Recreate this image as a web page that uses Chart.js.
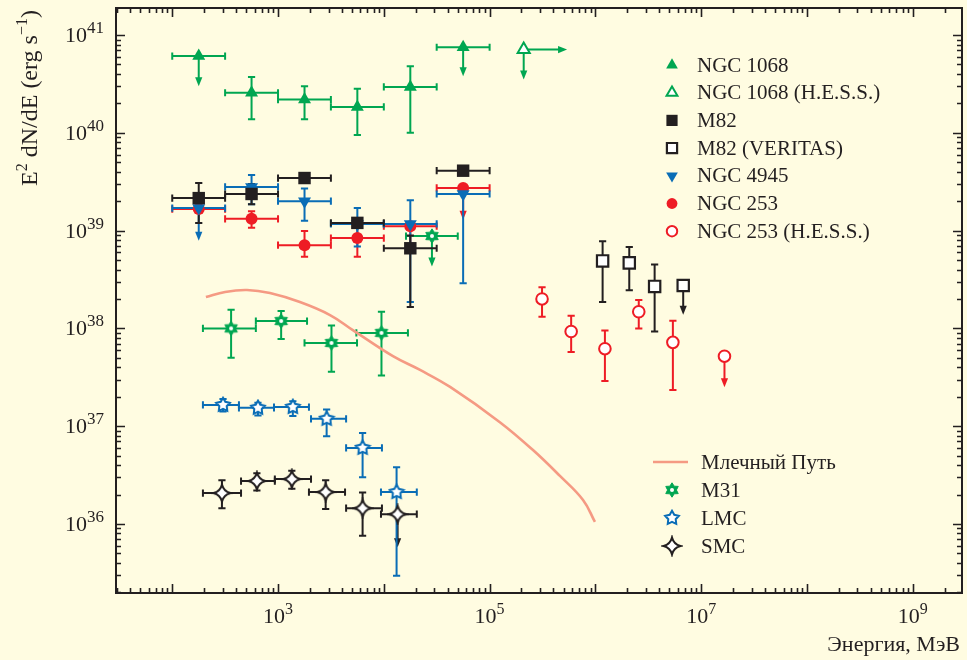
<!DOCTYPE html>
<html lang="ru">
<head>
<meta charset="UTF-8">
<title>Гамма-светимость галактик</title>
<script src="https://cdn.jsdelivr.net/npm/chart.js@4/dist/chart.umd.min.js"></script>
<style>
  body { margin: 0; background: #FFFCE1; overflow: hidden; }
  #wrap { width: 967px; height: 660px; }
  canvas { display: block; }
</style>
</head>
<body>
<div id="wrap"><canvas id="chart" width="967" height="660"></canvas></div>
<script>
// Fermi-LAT energy bins, MeV (centre and edges)
const fermiE  = [1.78e2, 5.62e2, 1.78e3, 5.62e3, 1.78e4, 5.62e4];
const fermiLo = [1.0e2, 3.16e2, 1.0e3, 3.16e3, 1.0e4, 3.16e4];
const fermiHi = [3.16e2, 1.0e3, 3.16e3, 1.0e4, 3.16e4, 1.0e5];

// NGC 1068, erg/s
const ngc1068L    = [6.1e40, 2.57e40, 2.19e40, 1.84e40, 2.95e40, 7.5e40];
const ngc1068LMin = [null, 1.38e40, 1.38e40, 9.5e39, 1.0e40, null];
const ngc1068LMax = [null, 3.72e40, 3.0e40, 2.82e40, 4.8e40, null];
const ngc1068UL   = [3.0e40, null, null, null, null, 3.8e40];

// NGC 1068, H.E.S.S.
const ngc1068HessE     = [2.1e5];
const ngc1068HessL     = [7.1e40];
const ngc1068HessUL    = [3.5e40];
const ngc1068HessEMore = [5.4e5];

// M82
const m82L    = [2.15e39, 2.37e39, 3.45e39, 1.2e39, 6.6e38, 4.1e39];
const m82LMin = [1.2e39, 1.86e39, null, null, 1.66e38, null];
const m82LMax = [3.07e39, 3.0e39, null, null, 8.9e38, null];

// M82, VERITAS
const m82VerE    = [1.17e6, 2.09e6, 3.63e6, 6.76e6];
const m82VerL    = [4.9e38, 4.68e38, 2.69e38, 2.75e38];
const m82VerLMin = [1.86e38, 2.45e38, 9.3e37, null];
const m82VerLMax = [7.8e38, 6.8e38, 4.5e38, null];
const m82VerUL   = [null, null, null, 1.38e38];

// NGC 4945
const ngc4945L    = [1.7e39, 2.8e39, 2.0e39, 1.17e39, 1.17e39, 2.37e39];
const ngc4945LMin = [null, 1.86e39, 1.26e39, 6.9e38, 1.86e38, 2.9e38];
const ngc4945LMax = [null, 3.7e39, 2.7e39, 1.7e39, 2.04e39, null];
const ngc4945UL   = [7.9e38, null, null, null, null, null];

// NGC 253
const ngc253L    = [1.66e39, 1.32e39, 7.1e38, 8.4e38, 1.11e39, 2.73e39];
const ngc253LMin = [null, 1.07e39, 5.4e38, 5.4e38, 6.0e38, null];
const ngc253LMax = [null, 1.58e39, 9.9e38, 1.12e39, null, null];
const ngc253UL   = [null, null, null, null, null, 1.29e39];

// NGC 253, H.E.S.S.
const ngc253HessE    = [3.13e5, 5.9e5, 1.23e6, 2.57e6, 5.4e6, 1.66e7];
const ngc253HessL    = [2.0e38, 9.3e37, 6.2e37, 1.48e38, 7.2e37, 5.2e37];
const ngc253HessLMin = [1.32e38, 5.75e37, 2.9e37, 1.0e38, 2.34e37, null];
const ngc253HessLMax = [2.63e38, 1.35e38, 9.5e37, 1.95e38, 1.2e38, null];
const ngc253HessUL   = [null, null, null, null, null, 2.5e37];

// M31
const m31E    = [3.6e2, 1.07e3, 3.2e3, 9.5e3, 2.85e4];
const m31ELo  = [1.95e2, 6.17e2, 1.78e3, 5.5e3, 1.62e4];
const m31EHi  = [6.17e2, 1.88e3, 5.58e3, 1.69e4, 5.0e4];
const m31L    = [1.0e38, 1.19e38, 7.1e37, 9.0e37, 8.8e38];
const m31LMin = [5.0e37, 7.8e37, 3.6e37, 3.3e37, null];
const m31LMax = [1.55e38, 1.51e38, 1.07e38, 1.48e38, null];
const m31UL   = [null, null, null, null, 4.3e38];

// LMC
const lmcE    = [3.02e2, 6.46e2, 1.38e3, 2.88e3, 6.3e3, 1.32e4];
const lmcELo  = [1.95e2, 4.27e2, 9.16e2, 2.05e3, 4.4e3, 9.4e3];
const lmcEHi  = [4.27e2, 9.16e2, 1.96e3, 4.4e3, 9.6e3, 2.05e4];
const lmcL    = [1.65e37, 1.54e37, 1.57e37, 1.19e37, 6.0e36, 2.12e36];
const lmcLMin = [1.41e37, 1.29e37, 1.27e37, 7.9e36, 3.0e36, 2.95e35];
const lmcLMax = [1.9e37, 1.74e37, 1.8e37, 1.48e37, 8.5e36, 3.8e36];

// SMC
const smcE    = [2.95e2, 6.31e2, 1.35e3, 2.82e3, 6.3e3, 1.35e4];
const smcELo  = [1.95e2, 4.47e2, 9.33e2, 1.96e3, 4.4e3, 9.4e3];
const smcEHi  = [4.47e2, 9.33e2, 2.05e3, 4.3e3, 9.6e3, 2.05e4];
const smcL    = [2.07e36, 2.75e36, 2.88e36, 2.12e36, 1.45e36, 1.26e36];
const smcLMin = [1.45e36, 2.2e36, 2.3e36, 1.42e36, 7.6e35, null];
const smcLMax = [2.8e36, 3.3e36, 3.5e36, 2.8e36, 2.1e36, null];
const smcUL   = [null, null, null, null, null, 5.8e35];

// Milky Way model spectrum
const mwE = [2.08e2, 3.16e2, 5.09e2, 8.39e2, 1.61e3, 3.1e3, 5.1e3, 1.22e4, 2.2e4, 4.23e4, 1.25e5, 2.57e5, 4.62e5, 7.64e5, 9.9e5];
const mwL = [2.09e38, 2.36e38, 2.47e38, 2.3e38, 1.86e38, 1.37e38, 9.6e37, 5.2e37, 3.76e37, 2.52e37, 1.1e37, 5.7e36, 3.1e36, 1.76e36, 1.05e36];

// axis decades
const yDecades = [36, 37, 38, 39, 40, 41];
const xLabelDecades = [3, 5, 7, 9];

const legendUpper = ['NGC 1068', 'NGC 1068 (H.E.S.S.)', 'M82', 'M82 (VERITAS)', 'NGC 4945', 'NGC 253', 'NGC 253 (H.E.S.S.)'];
const legendLower = ['Млечный Путь', 'M31', 'LMC', 'SMC'];

const GREEN = '#00A651', BLACK = '#231F20', BLUE = '#0A6DB6', RED = '#EE1C25', SALMON = '#F59A83';
const PAPER = '#FFFCE1', WHITE = '#FFFFFF';
const FONT = "'Liberation Serif', 'Times New Roman', serif";

// ---- custom star markers ----
function makeMarker(size, draw) {
  const c = document.createElement('canvas');
  c.width = c.height = size;
  const g = c.getContext('2d');
  g.translate(size / 2, size / 2);
  draw(g);
  return c;
}
function starPath(g, n, rOut, rIn) {
  g.beginPath();
  for (let k = 0; k < 2 * n; k++) {
    const r = k % 2 ? rIn : rOut;
    const a = -Math.PI / 2 + k * Math.PI / n;
    g.lineTo(r * Math.cos(a), r * Math.sin(a));
  }
  g.closePath();
}
const m31Marker = makeMarker(18, g => {
  starPath(g, 6, 7.2, 4.4);
  g.fillStyle = GREEN; g.fill();
  g.lineWidth = 1; g.strokeStyle = GREEN; g.stroke();
  g.beginPath(); g.arc(0, 0, 2, 0, 2 * Math.PI);
  g.fillStyle = WHITE; g.fill();
});
const lmcMarker = makeMarker(18, g => {
  starPath(g, 5, 7.2, 3.9);
  g.fillStyle = WHITE; g.fill();
  g.lineWidth = 2; g.strokeStyle = BLUE; g.stroke();
});
const smcMarker = makeMarker(22, g => {
  const r = 8.5, c = r * 0.2;
  g.beginPath();
  g.moveTo(0, -r);
  g.quadraticCurveTo(c, -c, r, 0);
  g.quadraticCurveTo(c, c, 0, r);
  g.quadraticCurveTo(-c, c, -r, 0);
  g.quadraticCurveTo(-c, -c, 0, -r);
  g.closePath();
  g.fillStyle = WHITE; g.fill();
  g.lineWidth = 2; g.strokeStyle = BLACK; g.stroke();
});

const pts = (xs, ys) => xs.map((x, i) => ({ x, y: ys[i] }));

const datasets = [
  { label: 'NGC 1068', data: pts(fermiE, ngc1068L), pointStyle: 'triangle', pointRadius: 7.5,
    backgroundColor: GREEN, borderColor: GREEN, borderWidth: 0,
    err: { xLo: fermiLo, xHi: fermiHi, yLo: ngc1068LMin, yHi: ngc1068LMax, down: ngc1068UL } },
  { label: 'NGC 1068 (H.E.S.S.)', data: pts(ngc1068HessE, ngc1068HessL), pointStyle: 'triangle', pointRadius: 7,
    backgroundColor: WHITE, borderColor: GREEN, borderWidth: 2,
    err: { down: ngc1068HessUL, right: ngc1068HessEMore } },
  { label: 'M82', data: pts(fermiE, m82L), pointStyle: 'rect', pointRadius: 8.8,
    backgroundColor: BLACK, borderColor: BLACK, borderWidth: 0,
    err: { xLo: fermiLo, xHi: fermiHi, yLo: m82LMin, yHi: m82LMax } },
  { label: 'M82 (VERITAS)', data: pts(m82VerE, m82VerL), pointStyle: 'rect', pointRadius: 8,
    backgroundColor: WHITE, borderColor: BLACK, borderWidth: 2.2,
    err: { yLo: m82VerLMin, yHi: m82VerLMax, down: m82VerUL } },
  { label: 'NGC 4945', data: pts(fermiE, ngc4945L), pointStyle: 'triangle', rotation: 180, pointRadius: 7.5,
    backgroundColor: BLUE, borderColor: BLUE, borderWidth: 0,
    err: { xLo: fermiLo, xHi: fermiHi, yLo: ngc4945LMin, yHi: ngc4945LMax, down: ngc4945UL } },
  { label: 'NGC 253', data: pts(fermiE, ngc253L), pointStyle: 'circle', pointRadius: 6,
    backgroundColor: RED, borderColor: RED, borderWidth: 0,
    err: { xLo: fermiLo, xHi: fermiHi, yLo: ngc253LMin, yHi: ngc253LMax, down: ngc253UL } },
  { label: 'NGC 253 (H.E.S.S.)', data: pts(ngc253HessE, ngc253HessL), pointStyle: 'circle', pointRadius: 5.8,
    backgroundColor: WHITE, borderColor: RED, borderWidth: 2,
    err: { yLo: ngc253HessLMin, yHi: ngc253HessLMax, down: ngc253HessUL } },
  { label: 'Млечный Путь', data: pts(mwE, mwL), showLine: true, pointRadius: 0, tension: 0.4,
    borderColor: SALMON, backgroundColor: SALMON, borderWidth: 2.6 },
  { label: 'M31', data: pts(m31E, m31L), pointStyle: m31Marker,
    backgroundColor: GREEN, borderColor: GREEN,
    err: { xLo: m31ELo, xHi: m31EHi, yLo: m31LMin, yHi: m31LMax, down: m31UL } },
  { label: 'LMC', data: pts(lmcE, lmcL), pointStyle: lmcMarker,
    backgroundColor: BLUE, borderColor: BLUE,
    err: { xLo: lmcELo, xHi: lmcEHi, yLo: lmcLMin, yHi: lmcLMax } },
  { label: 'SMC', data: pts(smcE, smcL), pointStyle: smcMarker,
    backgroundColor: BLACK, borderColor: BLACK,
    err: { xLo: smcELo, xHi: smcEHi, yLo: smcLMin, yHi: smcLMax, down: smcUL } }
];
datasets.forEach(d => { if (d.rotation) d.pointRotation = d.rotation; });

// ---- drawing helpers ----
function arrowDown(ctx, x, y0, y1) {
  const head = 9, half = 3.6;
  ctx.beginPath(); ctx.moveTo(x, y0); ctx.lineTo(x, y1 - head + 1); ctx.stroke();
  ctx.beginPath(); ctx.moveTo(x - half, y1 - head); ctx.lineTo(x + half, y1 - head); ctx.lineTo(x, y1); ctx.closePath(); ctx.fill();
}
function arrowRight(ctx, x0, x1, y) {
  const head = 9, half = 3.6;
  ctx.beginPath(); ctx.moveTo(x0, y); ctx.lineTo(x1 - head + 1, y); ctx.stroke();
  ctx.beginPath(); ctx.moveTo(x1 - head, y - half); ctx.lineTo(x1 - head, y + half); ctx.lineTo(x1, y); ctx.closePath(); ctx.fill();
}

const errorBars = {
  id: 'errorBars',
  beforeDatasetsDraw(chart) {
    const ctx = chart.ctx, sx = chart.scales.x, sy = chart.scales.y;
    const cap = 3.6;
    chart.data.datasets.slice().reverse().forEach(ds => {
      const e = ds.err;
      if (!e) return;
      ctx.save();
      ctx.strokeStyle = ds.borderColor; ctx.fillStyle = ds.borderColor; ctx.lineWidth = 2;
      ds.data.forEach((p, i) => {
        const px = sx.getPixelForValue(p.x), py = sy.getPixelForValue(p.y);
        if (e.xLo && e.xLo[i] != null) {
          const a = sx.getPixelForValue(e.xLo[i]), b = sx.getPixelForValue(e.xHi[i]);
          ctx.beginPath();
          ctx.moveTo(a, py); ctx.lineTo(b, py);
          ctx.moveTo(a, py - cap); ctx.lineTo(a, py + cap);
          ctx.moveTo(b, py - cap); ctx.lineTo(b, py + cap);
          ctx.stroke();
        }
        ctx.beginPath();
        if (e.yHi && e.yHi[i] != null) {
          const t = sy.getPixelForValue(e.yHi[i]);
          ctx.moveTo(px, py); ctx.lineTo(px, t);
          ctx.moveTo(px - cap, t); ctx.lineTo(px + cap, t);
        }
        if (e.yLo && e.yLo[i] != null) {
          const t = sy.getPixelForValue(e.yLo[i]);
          ctx.moveTo(px, py); ctx.lineTo(px, t);
          ctx.moveTo(px - cap, t); ctx.lineTo(px + cap, t);
        }
        ctx.stroke();
        if (e.down && e.down[i] != null) arrowDown(ctx, px, py, sy.getPixelForValue(e.down[i]));
        if (e.right && e.right[i] != null) arrowRight(ctx, px, sx.getPixelForValue(e.right[i]), py);
      });
      ctx.restore();
    });
  }
};

// text with superscript pieces: [[text, isSup], ...]
function richWidth(ctx, parts, size, supSize) {
  let w = 0;
  parts.forEach(([t, sup]) => { ctx.font = (sup ? supSize : size) + 'px ' + FONT; w += ctx.measureText(t).width; });
  return w;
}
function drawRich(ctx, parts, x, y, size, supSize, rise) {
  parts.forEach(([t, sup]) => {
    ctx.font = (sup ? supSize : size) + 'px ' + FONT;
    ctx.fillText(t, x, sup ? y - rise : y);
    x += ctx.measureText(t).width;
  });
}

const frame = {
  id: 'frame',
  beforeDraw(chart) {
    const ctx = chart.ctx;
    ctx.save(); ctx.fillStyle = PAPER; ctx.fillRect(0, 0, chart.width, chart.height); ctx.restore();
  },
  afterDraw(chart) {
    const ctx = chart.ctx, a = chart.chartArea, sx = chart.scales.x, sy = chart.scales.y;
    ctx.save();
    ctx.strokeStyle = BLACK; ctx.fillStyle = BLACK; ctx.lineWidth = 2;
    ctx.strokeRect(a.left, a.top, a.right - a.left, a.bottom - a.top);

    // inward ticks on all four sides
    ctx.lineWidth = 1.6;
    ctx.beginPath();
    for (let d = 1; d <= 9; d++) {
      for (let m = 1; m <= 9; m++) {
        const v = m * Math.pow(10, d);
        if (v < sx.min || v > sx.max) continue;
        const x = Math.round(sx.getPixelForValue(v)) + 0.5, len = m === 1 ? 9 : 5;
        ctx.moveTo(x, a.bottom); ctx.lineTo(x, a.bottom - len);
        ctx.moveTo(x, a.top); ctx.lineTo(x, a.top + len);
      }
    }
    for (let d = 35; d <= 41; d++) {
      for (let m = 1; m <= 9; m++) {
        const v = m * Math.pow(10, d);
        if (v < sy.min || v > sy.max) continue;
        const y = Math.round(sy.getPixelForValue(v)) + 0.5, len = m === 1 ? 9 : 5;
        ctx.moveTo(a.left, y); ctx.lineTo(a.left + len, y);
        ctx.moveTo(a.right, y); ctx.lineTo(a.right - len, y);
      }
    }
    ctx.stroke();

    // tick labels
    ctx.textBaseline = 'alphabetic'; ctx.textAlign = 'left';
    yDecades.forEach(d => {
      const y = sy.getPixelForValue(Math.pow(10, d));
      const parts = [['10', false], [String(d), true]];
      const w = richWidth(ctx, parts, 22, 17);
      drawRich(ctx, parts, 104 - w, y + 7, 22, 17, 9);
    });
    xLabelDecades.forEach(d => {
      const x = sx.getPixelForValue(Math.pow(10, d));
      const parts = [['10', false], [String(d), true]];
      const w = richWidth(ctx, parts, 22, 16);
      drawRich(ctx, parts, x - w / 2, a.bottom + 30, 22, 16, 9);
    });

    // axis titles
    ctx.font = '22px ' + FONT;
    ctx.textAlign = 'right';
    ctx.fillText('Энергия, МэВ', 960, 651);
    ctx.textAlign = 'left';
    const yTitle = [['E', false], ['2', true], [' dN/dE (erg s', false], ['−1', true], [')', false]];
    const tw = richWidth(ctx, yTitle, 24, 16);
    ctx.translate(37, 98);
    ctx.rotate(-Math.PI / 2);
    drawRich(ctx, yTitle, -tw / 2, 0, 24, 16, 10);
    ctx.restore();

    drawLegend(chart);
  }
};

function drawLegend(chart) {
  const ctx = chart.ctx, H = Chart.helpers;
  ctx.save();
  ctx.font = '21px ' + FONT;
  ctx.textBaseline = 'middle'; ctx.textAlign = 'left';
  const entry = (label, y, textX) => {
    const ds = chart.data.datasets.find(d => d.label === label);
    if (ds.showLine) {
      ctx.strokeStyle = ds.borderColor; ctx.lineWidth = ds.borderWidth;
      ctx.beginPath(); ctx.moveTo(653, y); ctx.lineTo(688, y); ctx.stroke();
    } else {
      ctx.fillStyle = ds.backgroundColor; ctx.strokeStyle = ds.borderColor; ctx.lineWidth = ds.borderWidth || 0;
      H.drawPoint(ctx, { pointStyle: ds.pointStyle, rotation: ds.rotation || 0,
        radius: (ds.pointRadius || 6) * 0.9, borderWidth: ds.borderWidth || 0 }, 672, y);
    }
    ctx.fillStyle = BLACK;
    ctx.fillText(label, textX, y + 1);
  };
  legendUpper.forEach((l, i) => entry(l, 65 + i * 27.7, 697));
  legendLower.forEach((l, i) => entry(l, 462 + i * 28, 701));
  ctx.restore();
}

new Chart(document.getElementById('chart'), {
  type: 'scatter',
  data: { datasets },
  options: {
    responsive: false,
    animation: false,
    events: [],
    layout: { autoPadding: false, padding: { left: 116, top: 8, right: 5, bottom: 67 } },
    scales: {
      x: { type: 'logarithmic', display: false, min: 29.4, max: 2.92e9 },
      y: { type: 'logarithmic', display: false, min: 1.97e35, max: 1.89e41 }
    },
    plugins: { legend: { display: false }, tooltip: { enabled: false } }
  },
  plugins: [frame, errorBars]
});
</script>
</body>
</html>
